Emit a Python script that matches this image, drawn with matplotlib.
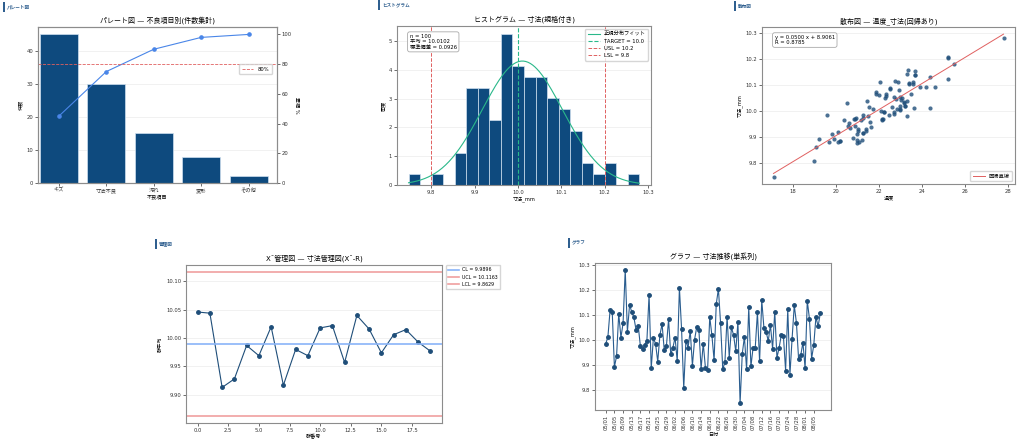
import numpy as np
import pandas as pd
import matplotlib
matplotlib.use('Agg')
import matplotlib.pyplot as plt
from matplotlib.patches import Rectangle

plt.rcParams['font.family'] = ['DejaVu Sans', 'Noto Sans CJK JP']
plt.rcParams['axes.unicode_minus'] = False

# ---- data ----
# pareto
defect_items = ['キズ', '寸法不良', '汚れ', '変形', 'その他']
defect_counts = [45, 30, 15, 8, 2]

# daily dimension readings, 100 days from 05/01
start_date = '2024-05-01'
dimension_mm = [
    9.985, 10.012, 10.118, 10.113, 9.893, 9.935, 10.105, 10.010, 10.066, 10.280,
    10.033, 10.140, 10.112, 10.090, 10.040, 10.056, 9.975, 9.965, 9.980, 9.998,
    10.180, 9.888, 10.008, 9.985, 9.914, 10.020, 10.064, 9.960, 9.975, 10.082,
    9.943, 9.970, 10.010, 9.915, 10.208, 10.043, 9.808, 9.998, 9.970, 10.037,
    9.898, 10.002, 10.052, 10.040, 9.885, 9.986, 9.890, 9.880, 10.092, 10.018,
    9.920, 10.143, 10.204, 10.066, 9.883, 9.912, 10.093, 9.930, 10.050, 10.020,
    9.955, 10.072, 9.748, 9.945, 10.013, 9.883, 10.130, 9.895, 9.970, 9.970,
    10.110, 9.915, 10.158, 10.048, 10.033, 9.996, 10.060, 9.965, 10.113, 9.930,
    9.968, 10.020, 10.015, 9.878, 10.122, 9.862, 10.006, 10.138, 10.068, 9.925,
    9.940, 9.990, 9.887, 10.156, 10.085, 9.926, 9.980, 10.092, 10.054, 10.106,
]
temperature = [
    22.45, 24.4, 22.75, 22.05, 19.2, 20.65, 23.6, 23.0, 22.35, 27.8,
    20.5, 23.7, 22.9, 22.5, 23.3, 23.0, 20.95, 21.15, 23.3, 22.7,
    25.5, 21.0, 22.85, 19.6, 19.8, 23.0, 22.0, 21.6, 21.25, 22.95,
    20.9, 20.85, 21.75, 21.25, 25.2, 23.05, 19.0, 22.25, 22.15, 23.15,
    20.8, 22.1, 22.3, 21.45, 20.2, 21.25, 21.2, 19.7, 23.9, 22.6,
    20.1, 23.3, 25.2, 23.5, 21.1, 21.0, 24.6, 21.05, 23.1, 23.2,
    20.6, 21.85, 17.1, 20.55, 23.65, 20.1, 24.4, 19.9, 20.9, 22.2,
    23.4, 21.25, 23.35, 22.8, 23.15, 22.25, 22.35, 20.4, 23.6, 21.4,
    22.15, 23.2, 21.55, 21.0, 25.2, 19.1, 23.0, 23.7, 21.85, 21.05,
    21.65, 22.7, 20.2, 23.7, 22.5, 21.4, 21.5, 24.2, 22.7, 23.4,
]

# histogram stats / spec limits
hist_n = 100
hist_mean = 10.0102
hist_std = 0.0926
target, usl, lsl = 10.0, 10.2, 9.8

# regression
reg_slope = 0.0500
reg_intercept = 8.9061
reg_r = 0.8785

# X-bar chart
xbar = [10.046, 10.044, 9.913, 9.928, 9.987, 9.969, 10.020, 9.917, 9.980, 9.969,
        10.018, 10.022, 9.957, 10.040, 10.016, 9.974, 10.006, 10.015, 9.993, 9.977]
cl, ucl, lcl = 9.9896, 10.1163, 9.8629

# ---- style ----
NAVY = '#0e4a7e'
DOT = '#1f4e79'
RED = '#e06060'
GREEN = '#2ab88a'
W, H = 1024, 442
TICK = 3.8
LAB = 3.7
TTL = 5.0


def rect(l, t, r, b):
    return [l / W, 1 - b / H, (r - l) / W, (b - t) / H]


def style(ax):
    for s in ax.spines.values():
        s.set_color('#8c8c8c')
        s.set_linewidth(0.8)
    ax.tick_params(labelsize=TICK, length=2, width=0.5, pad=1.5,
                   colors='#333333')
    ax.grid(axis='y', color='#ececec', lw=0.5)
    ax.set_axisbelow(True)


def section(fig, x, y, label):
    fig.add_artist(Rectangle((x / W, 1 - (y + 5) / H), 1.6 / W, 10 / H,
                             transform=fig.transFigure, color='#2f5f8f', lw=0))
    fig.text((x + 4) / W, 1 - y / H, label, fontsize=3.3, color='#2f5f8f',
             va='center', ha='left', fontweight='bold')


fig = plt.figure(figsize=(10.24, 4.42), dpi=100)

# ---- pareto ----
ax = fig.add_axes(rect(38, 27, 277, 183))
style(ax)
pos = np.arange(len(defect_items))
ax.bar(pos, defect_counts, width=0.8, color=NAVY, edgecolor='#cfe0f0', lw=0.5)
ax.set_xticks(pos)
ax.set_xticklabels(defect_items)
ax.set_ylim(0, max(defect_counts) * 1.05)
ax.set_xlim(-0.44, len(defect_items) - 0.4)
ax.set_ylabel('件数', fontsize=LAB, labelpad=2)
ax.set_xlabel('不良項目', fontsize=LAB, labelpad=1)
ax.set_title('パレート図 — 不良項目別(件数集計)', fontsize=TTL, pad=3)
ax2 = ax.twinx()
cum = np.cumsum(defect_counts) / np.sum(defect_counts) * 100
ax2.plot(pos, cum, color='#4a86e8', lw=0.8, marker='o', ms=2.3)
ax2.axhline(80, color=RED, ls='--', lw=0.6, label='80%')
ax2.set_ylim(0, 105)
ax2.set_ylabel('累積 %', fontsize=LAB, rotation=270, labelpad=5)
for s in ax2.spines.values():
    s.set_color('#8c8c8c')
    s.set_linewidth(0.8)
ax2.tick_params(labelsize=TICK, length=2, width=0.5, pad=1.5, colors='#333333')
ax2.legend(loc='upper right', bbox_to_anchor=(0.99, 0.78), fontsize=TICK,
           frameon=True, handlelength=2.2, borderpad=0.5)
section(fig, 3, 7, 'パレート図')

# ---- histogram ----
ax = fig.add_axes(rect(397, 26, 651, 185))
style(ax)
dims = np.array(dimension_mm)
ax.hist(dims, bins=20, density=True, color=NAVY, edgecolor='#cfe0f0', lw=0.5)
xs = np.linspace(dims.min(), dims.max(), 200)
pdf = np.exp(-0.5 * ((xs - hist_mean) / hist_std) ** 2) / (hist_std * np.sqrt(2 * np.pi))
ax.plot(xs, pdf, color=GREEN, lw=0.8, label='正規分布フィット')
ax.axvline(target, color=GREEN, ls='--', lw=0.8, label=f'TARGET = {target}')
ax.axvline(usl, color=RED, ls='--', lw=0.7, label=f'USL = {usl}')
ax.axvline(lsl, color=RED, ls='--', lw=0.7, label=f'LSL = {lsl}')
ax.set_xlabel('寸法_mm', fontsize=LAB, labelpad=1)
ax.set_ylabel('密度', fontsize=LAB, labelpad=2)
ax.set_title('ヒストグラム — 寸法(規格付き)', fontsize=TTL, pad=3)
ax.text(0.05, 0.95, f'n = {hist_n}\n平均 = {hist_mean:.4f}\n標準偏差 = {hist_std:.4f}',
        transform=ax.transAxes, fontsize=TICK, va='top', ha='left', linespacing=1.1,
        bbox=dict(boxstyle='round,pad=0.4', fc='white', ec='#aaaaaa', lw=0.6))
ax.legend(loc='upper right', fontsize=TICK, handlelength=2.2, borderpad=0.5,
          labelspacing=0.4)
section(fig, 378, 5, 'ヒストグラム')

# ---- scatter ----
ax = fig.add_axes(rect(762, 27, 1015, 184))
style(ax)
temps = np.array(temperature)
ax.scatter(temps, dims, s=9, color=DOT, alpha=0.8, lw=0)
lx = np.array([temps.min(), temps.max()])
ax.plot(lx, reg_slope * lx + reg_intercept, color=RED, lw=0.7, label='回帰直線')
ax.set_xlabel('温度', fontsize=LAB, labelpad=1)
ax.set_ylabel('寸法_mm', fontsize=LAB, labelpad=2)
ax.set_title('散布図 — 温度_寸法(回帰あり)', fontsize=TTL, pad=3)
ax.text(0.05, 0.95, f'y = {reg_slope:.4f} x + {reg_intercept:.4f}\nR = {reg_r:.4f}',
        transform=ax.transAxes, fontsize=TICK, va='top', ha='left', linespacing=1.1,
        bbox=dict(boxstyle='round,pad=0.4', fc='white', ec='#aaaaaa', lw=0.6))
ax.legend(loc='lower right', fontsize=TICK, handlelength=2.2, borderpad=0.5)
section(fig, 734, 6, '散布図')

# ---- X-bar chart ----
ax = fig.add_axes(rect(186, 265, 442, 423))
style(ax)
grp = np.arange(len(xbar))
ax.plot(grp, xbar, color=DOT, lw=0.8, marker='o', ms=2.5)
ax.axhline(cl, color='#8ab4f8', lw=1.2, label=f'CL = {cl:.4f}')
ax.axhline(ucl, color='#f0a0a0', lw=1.2, label=f'UCL = {ucl:.4f}')
ax.axhline(lcl, color='#f0a0a0', lw=1.2, label=f'LCL = {lcl:.4f}')
ax.set_xlabel('群番号', fontsize=LAB, labelpad=1)
ax.set_ylabel('群平均', fontsize=LAB, labelpad=2)
ax.set_title('X\u00af管理図 — 寸法管理図(X\u00af-R)', fontsize=TTL, pad=3)
ax.legend(loc='upper left', bbox_to_anchor=(1.015, 1.0), fontsize=TICK - 0.4,
          handlelength=2.2, borderpad=0.5, borderaxespad=0)
section(fig, 155, 244, '管理図')

# ---- time series ----
ax = fig.add_axes(rect(595, 263, 831, 410))
style(ax)
dates = pd.date_range(start_date, periods=len(dimension_mm), freq='D')
ax.plot(dates, dimension_mm, color='#2a5d8f', lw=0.8, marker='o', ms=2.5,
        mfc=DOT, mec=DOT)
ax.set_xticks(dates[::4])
ax.set_xticklabels(dates[::4].strftime('%m/%d'), rotation=90)
ax.set_xlabel('日付', fontsize=LAB, labelpad=1)
ax.set_ylabel('寸法_mm', fontsize=LAB, labelpad=2)
ax.set_title('グラフ — 寸法推移(単系列)', fontsize=TTL, pad=3)
section(fig, 568, 243, 'グラフ')

fig.savefig('out.png', dpi=100, facecolor='white')
